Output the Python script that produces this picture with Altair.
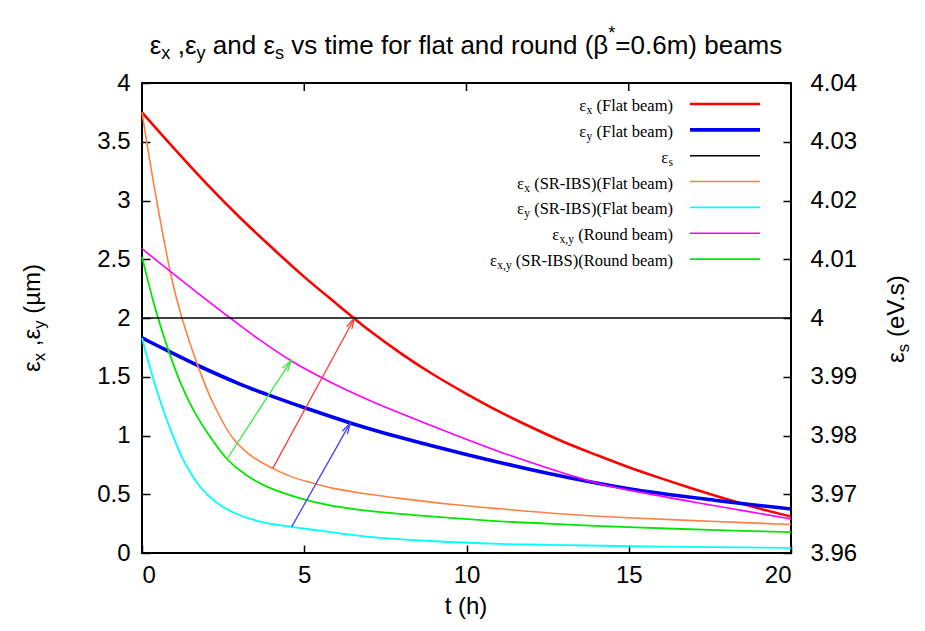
import math
import altair as alt
import pandas as pd

# ---------------- data ----------------
t_red = [0, 1, 2, 3, 4, 5, 6, 7, 8, 9, 10, 11, 12, 13, 14, 15, 16, 17, 18, 19, 20]
v_red = [3.75, 3.44, 3.14, 2.86, 2.6, 2.35, 2.12, 1.895, 1.695, 1.515, 1.355, 1.205, 1.07,
         0.945, 0.835, 0.73, 0.635, 0.545, 0.46, 0.38, 0.31]

t_blue = [0, 0.8, 1.69, 3, 3.85, 5.08, 6.42, 8, 9.9, 12.57, 15, 17.71, 20]
v_blue = [1.83, 1.72, 1.60, 1.44, 1.35, 1.23, 1.107, 0.98, 0.845, 0.674, 0.547, 0.447, 0.375]

t_es = [0, 20]
v_es = [4.0, 4.0]

t_orange = [0, 0.4, 0.92, 1.23, 1.7, 2.2, 2.82, 3.4, 4.03, 4.6, 5.2, 5.9, 7, 7.95, 9.5,
            11.03, 12.88, 15, 17.5, 20]
v_orange = [3.75, 3.08, 2.33, 2.0, 1.61, 1.27, 0.97, 0.82, 0.72, 0.65, 0.60, 0.55, 0.50,
            0.465, 0.415, 0.376, 0.334, 0.30, 0.27, 0.243]

t_cyan = [0, 0.36, 0.77, 1.28, 1.8, 2.3, 2.82, 3.6, 4.61, 5.5, 6.93, 9, 11.03, 12.57, 15, 17.5, 20]
v_cyan = [1.83, 1.47, 1.13, 0.79, 0.56, 0.43, 0.345, 0.27, 0.222, 0.19, 0.14, 0.10, 0.078,
          0.07, 0.058, 0.05, 0.044]

t_magenta = [0, 0.9, 1.8, 2.72, 3.6, 4.57, 5.8, 7, 8.5, 11.04, 12.57, 14.1, 15, 17.71, 20]
v_magenta = [2.59, 2.39, 2.195, 2.0, 1.82, 1.64, 1.455, 1.30, 1.13, 0.86, 0.717, 0.59, 0.535,
             0.40, 0.29]

t_green = [0, 0.4, 0.82, 1.2, 1.6, 2.0, 2.62, 3.2, 3.85, 4.88, 5.8, 6.93, 8.5, 11.03, 13, 15,
           17.5, 20]
v_green = [2.52, 2.09, 1.72, 1.44, 1.21, 1.03, 0.80, 0.665, 0.565, 0.465, 0.405, 0.36, 0.32,
           0.27, 0.243, 0.22, 0.197, 0.177]

# arrows: (t start, value start, t end, value end)
arrow_names = ["green", "red", "blue"]
arrow_t0 = [2.62, 4.03, 4.61]
arrow_v0 = [0.80, 0.72, 0.222]
arrow_t1 = [4.60, 6.55, 6.42]
arrow_v1 = [1.64, 2.0, 1.107]
arrow_colors = ["#3fe83f", "#ff3a3a", "#4040ff"]

x_ticks = [0, 5, 10, 15, 20]
y_ticks = [0, 0.5, 1, 1.5, 2, 2.5, 3, 3.5, 4]
y2_ticks = [3.96, 3.97, 3.98, 3.99, 4.0, 4.01, 4.02, 4.03, 4.04]

# legend rows: segments (text, kind)
legend_rows = [
    [("ε", "n"), ("x", "sub"), (" (Flat beam)", "n")],
    [("ε", "n"), ("y", "sub"), (" (Flat beam)", "n")],
    [("ε", "n"), ("s", "sub")],
    [("ε", "n"), ("x", "sub"), (" (SR-IBS)(Flat beam)", "n")],
    [("ε", "n"), ("y", "sub"), (" (SR-IBS)(Flat beam)", "n")],
    [("ε", "n"), ("x,y", "sub"), (" (Round beam)", "n")],
    [("ε", "n"), ("x,y", "sub"), (" (SR-IBS)(Round beam)", "n")],
]
series_colors = ["#ff0000", "#0000f0", "#000000", "#ff8040", "#00ffff", "#ff00ff", "#00e600"]
series_widths = [2.6, 3.6, 1.5, 1.6, 1.8, 1.6, 1.8]

# ---------------- layout ----------------
W, H = 649, 470
PAD = {"left": 134, "top": 75, "right": 126, "bottom": 68}

ARIAL = {" ": .278, "(": .333, ")": .333, ",": .278, ".": .278, "=": .584, "*": .389,
         "0": .556, "6": .556, "a": .556, "b": .556, "d": .556, "e": .556, "f": .278,
         "h": .556, "i": .222, "l": .222, "m": .833, "n": .556, "o": .556, "r": .333,
         "s": .5, "t": .278, "u": .556, "v": .5, "x": .5, "y": .5, "ε": .446, "β": .574,
         "µ": .577, "V": .667}
TIMES = {" ": .25, "(": .333, ")": .333, ",": .25, "-": .333, ".": .25, "F": .556,
         "l": .278, "a": .444, "t": .278, "b": .5, "e": .444, "m": .778, "S": .556,
         "R": .667, "I": .333, "B": .667, "o": .5, "u": .5, "n": .5, "d": .5,
         "x": .5, "y": .5, "s": .389, "ε": .44}


def rich_text(segments, x, y, size, font, table, align="center", angle=0,
              baseline="middle", weight="normal", dy0=0.0):
    sizes, widths = [], []
    for text, kind in segments:
        s = size * 0.7 if kind in ("sub", "sup") else size
        sizes.append(s)
        widths.append(sum(table.get(c, .55) for c in text) * s)
    total = sum(widths)
    off = {"center": -total / 2, "right": -total, "left": 0}[align]
    out = []
    for (text, kind), s, w in zip(segments, sizes, widths):
        lead = len(text) - len(text.lstrip(" "))
        core = text.strip(" ")
        start = off + lead * table[" "] * s
        dy = dy0 + (0.3 * size if kind == "sub" else (-0.45 * size if kind == "sup" else 0))
        if core:
            out.append(
                alt.Chart(pd.DataFrame({"s": [core]}))
                .mark_text(align="left", baseline=baseline, dx=start, dy=dy, angle=angle,
                           font=font, fontSize=s, fontWeight=weight, color="black")
                .encode(x=alt.value(x), y=alt.value(y), text="s:N")
            )
        off += w
    return out


xscale = alt.Scale(domain=[0, 20], nice=False, zero=False)
yscale = alt.Scale(domain=[0, 4], nice=False, zero=False)
LABEL = dict(labelFont="Liberation Sans", labelFontSize=24, labelColor="black",
             tickColor="black", tickWidth=1.5, tickSize=8, offset=-8, domain=False,
             grid=False, title=None)
xaxis = alt.Axis(values=x_ticks, format="~g", labelPadding=10, **LABEL)
yaxis = alt.Axis(values=y_ticks, format="~g", labelPadding=12, orient="left", **LABEL)
y2axis = alt.Axis(values=y2_ticks, format="~g", labelPadding=19, orient="right", **LABEL)


def X(f):
    return alt.X(f, type="quantitative", scale=xscale, axis=xaxis)


def Y(f):
    return alt.Y(f, type="quantitative", scale=yscale, axis=yaxis)


def curve(ts, vs, color, width):
    df = pd.DataFrame({"t": ts, "v": vs})
    return alt.Chart(df).mark_line(color=color, strokeWidth=width,
                                   interpolate="catmull-rom").encode(x=X("t"), y=Y("v"))


layers = []
layers.append(curve(t_red, v_red, series_colors[0], series_widths[0]))
layers.append(curve(t_blue, v_blue, series_colors[1], series_widths[1]))
layers.append(curve(t_orange, v_orange, series_colors[3], series_widths[3]))
layers.append(curve(t_cyan, v_cyan, series_colors[4], series_widths[4]))
layers.append(curve(t_magenta, v_magenta, series_colors[5], series_widths[5]))
layers.append(curve(t_green, v_green, series_colors[6], series_widths[6]))

# arrows
adf = pd.DataFrame({"name": arrow_names, "t0": arrow_t0, "v0": arrow_v0,
                    "t1": arrow_t1, "v1": arrow_v1})
adf["ang"] = [math.degrees(math.atan2((b - a) * W / 20, (d - c) * H / 4))
              for a, b, c, d in zip(arrow_t0, arrow_t1, arrow_v0, arrow_v1)]
acolor = alt.Color("name:N", scale=alt.Scale(domain=arrow_names, range=arrow_colors), legend=None)
layers.append(alt.Chart(adf).mark_rule(strokeWidth=1.3).encode(
    x=X("t0"), y=Y("v0"), x2="t1", y2="v1", color=acolor))
layers.append(alt.Chart(adf).mark_point(
    shape="M -0.26 1 L 0 0 L 0.26 1", filled=False, size=500, strokeWidth=1.3, opacity=1
).encode(x=X("t1"), y=Y("v1"), color=acolor,
         angle=alt.Angle("ang:Q", scale=alt.Scale(domain=[0, 360], range=[0, 360]))))

# mirrored ticks on the top border
layers.append(alt.Chart(pd.DataFrame({"t": x_ticks[1:-1]})).mark_rule(
    color="black", strokeWidth=1.5).encode(x=X("t"), y=alt.value(0), y2=alt.value(8)))

# legend
LX_TEXT, LX1, LX2, LY0, LDY = 531, 548, 618, 21, 25.85
for i, (segs, col, wd) in enumerate(zip(legend_rows, series_colors, series_widths)):
    yy = LY0 + i * LDY
    layers.append(alt.Chart(pd.DataFrame({"a": [0]})).mark_rule(color=col, strokeWidth=wd)
                  .encode(x=alt.value(LX1), x2=alt.value(LX2), y=alt.value(yy)))
    layers += rich_text(segs, LX_TEXT, yy, 16.5, "Liberation Serif", TIMES,
                        align="right", dy0=2)

# titles
title_segs = [("ε", "n"), ("x", "sub"), (" ,ε", "n"), ("y", "sub"), (" and ε", "n"), ("s", "sub"),
              (" vs time for flat and round (β", "n"), ("*", "sup"), ("=0.6m) beams", "n")]
layers += rich_text(title_segs, 324, -37, 26, "Liberation Sans", ARIAL, align="center")
layers += rich_text([("t (h)", "n")], 324, 524, 24, "Liberation Sans", ARIAL, align="center")
layers += rich_text([("ε", "n"), ("x", "sub"), (" ,ε", "n"), ("y", "sub"), (" (µm)", "n")],
                    -109, 235, 24, "Liberation Sans", ARIAL, align="center", angle=270)
layers += rich_text([("ε", "n"), ("s", "sub"), (" (eV.s)", "n")],
                    755, 235, 24, "Liberation Sans", ARIAL, align="center", angle=270)

main = alt.layer(*layers)

es_layer = alt.Chart(pd.DataFrame({"t": t_es, "es": v_es})).mark_line(
    color=series_colors[2], strokeWidth=series_widths[2]).encode(
    x=X("t"),
    y=alt.Y("es:Q", scale=alt.Scale(domain=[3.96, 4.04], nice=False, zero=False), axis=y2axis))

chart = alt.layer(main, es_layer).resolve_scale(y="independent").properties(
    width=W, height=H, padding=PAD, autosize=alt.AutoSizeParams(type="none"),
    background="white"
).configure_view(stroke="black", strokeWidth=2)

chart.save("out.html", embed_options={"renderer": "svg", "actions": False})
